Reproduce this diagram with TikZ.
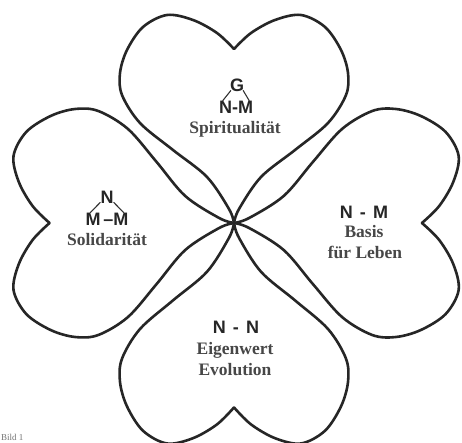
\documentclass[tikz,border=0pt]{standalone}
\usepackage{fontspec}
\setmainfont{Liberation Serif}
\newfontfamily\formfont{Liberation Sans}
\usetikzlibrary{calc}
\tikzset{
  leaf/.style={draw=black!85, line width=2.6pt, line join=round, line cap=round},
  word/.style={font=\bfseries\fontsize{17.5}{19}\selectfont, text=black!72, inner sep=0pt},
  form/.style={font=\formfont\bfseries\fontsize{18}{20}\selectfont, text=black!85, inner sep=0pt},
  bond/.style={draw=black!80, line width=1.1pt, line cap=round},
  heart/.pic={
    \draw[leaf] plot[smooth, tension=0.55] coordinates {(0,0) (-5,14) (-27,46) (-61,73) (-94,100) (-112,128) (-114,150) (-107,173) (-91,196) (-67,208) (-41,203) (-17,190) (0,174)}
                plot[smooth, tension=0.55] coordinates {(0,174) (17,190) (41,203) (67,208) (91,196) (107,173) (114,150) (112,128) (94,100) (61,73) (27,46) (5,14) (0,0)};
  }
}
\begin{document}
\begin{tikzpicture}[x=1pt,y=1pt]
\useasboundingbox (0,0) rectangle (462,442);
\fill[white] (0,0) rectangle (462,442);
\coordinate (C) at (234,219);
% four hearts
\pic[yscale=1.0] at (C) {heart};
\pic[rotate=-90, yscale=1.08] at (C) {heart};
\pic[rotate=180, yscale=1.06] at (C) {heart};
\pic[rotate=90, yscale=1.06] at (C) {heart};
% top leaf
\node[form] (tG) at (237,357) {G};
\node[form] (tNM) at (236,335) {N-M};
\node[word] (tW) at (235,313) {Spiritualität};
\draw[bond] ($(tG.south west)+(1,1)$) -- ($(tNM.north west)+(4,0)$);
\draw[bond] ($(tG.south east)+(-1,1)$) -- ($(tNM.north east)+(-4,0)$);
% left leaf
\node[form] (lN) at (107,245) {N};
\node[form] (lMM) at (107,223) {M\,–M};
\node[word] (lW) at (107,202) {Solidarität};
\draw[bond] ($(lN.south west)+(0,1)$) -- ($(lMM.north west)+(5,0)$);
\draw[bond] ($(lN.south east)+(0,1)$) -- ($(lMM.north east)+(-5,0)$);
% right leaf
\node[form] (rNM) at (364,230) {N\hspace{0.4em}-\hspace{0.4em}M};
\node[word] (rW1) at (364,210) {Basis};
\node[word] (rW2) at (365,190) {für Leben};
% bottom leaf
\node[form] (bNN) at (236,115) {N\hspace{0.4em}-\hspace{0.4em}N};
\node[word] (bW1) at (235,92) {Eigenwert};
\node[word] (bW2) at (235,72) {Evolution};
% caption at the lower edge
\node[anchor=south west, inner sep=0pt, text=black!55, font=\fontsize{9}{10}\selectfont] (bild) at (1,1) {Bild 1};
\end{tikzpicture}
\end{document}
